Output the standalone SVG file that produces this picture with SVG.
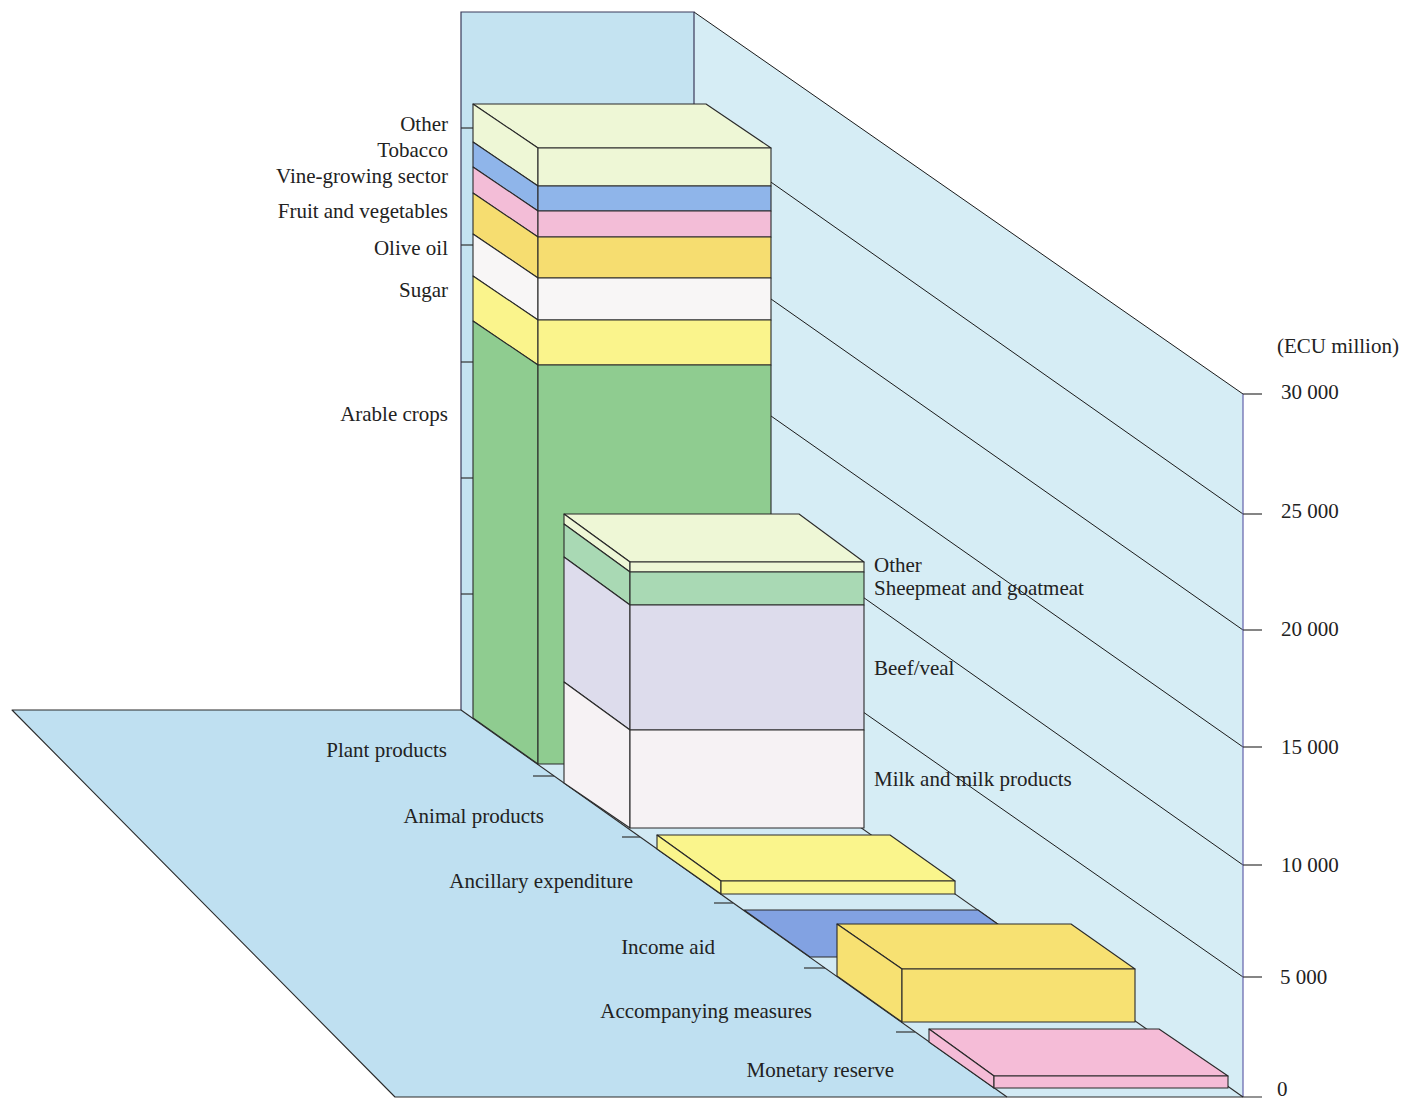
<svg xmlns="http://www.w3.org/2000/svg" width="1403" height="1100" viewBox="0 0 1403 1100">
<style>
.lbl{font-family:"Liberation Serif","Times New Roman",serif;font-size:21px;fill:#222}
.ol{stroke:#2a2a2a;stroke-width:1.1;stroke-linejoin:round}
.grid{stroke:#1a1a1a;stroke-width:1;fill:none}
.edge{stroke:#3a3a5a;stroke-width:1.2;fill:none}
.tick{stroke:#333;stroke-width:1.2}
.c-oth{fill:#eef7d6}
.c-tob{fill:#8fb5ea}
.c-vin{fill:#f3bdd7}
.c-fru{fill:#f6dd70}
.c-oli{fill:#f8f6f6}
.c-sug{fill:#faf48c}
.c-ara{fill:#8fcc90}
.c-she{fill:#a9d9b4}
.c-bee{fill:#dddcec}
.c-mil{fill:#f6f2f4}
.c-anc{fill:#faf58c}
.c-inc{fill:#82a2e2}
.c-acc{fill:#f7e172}
.c-mon{fill:#f5bcd7}
</style>
<rect width="1403" height="1100" fill="#ffffff"/>
<g id="walls">
<polygon points="461,12 694,12 694,710 461,710" fill="#c4e3f1"/>
<polygon points="694,12 1243,394 1243,1097 694,710" fill="#d6edf5"/>
<polygon points="12,710 461,710 1007,1097 395,1097" fill="#bfe0f1"/>
<polygon points="461,710 694,710 1243,1097 1007,1097" fill="#d2eaf4"/>
</g>
<g id="gridlines">
<line class="grid" x1="694" y1="128" x2="1243" y2="514"/>
<line class="grid" x1="694" y1="245" x2="1243" y2="630"/>
<line class="grid" x1="694" y1="362" x2="1243" y2="747"/>
<line class="grid" x1="694" y1="478" x2="1243" y2="865"/>
<line class="grid" x1="694" y1="594" x2="1243" y2="977"/>
<line class="grid" x1="694" y1="12" x2="1243" y2="394"/>
</g>
<g id="axes">
<polyline class="edge" points="461,710 461,12 694,12 694,710"/>
<line x1="1243" y1="394" x2="1243" y2="1097" stroke="#6c6cb0" stroke-width="1.3"/>
<polyline class="ol" fill="none" points="461,710 12,710 395,1097 1262,1097"/>
<line class="ol" x1="461" y1="710" x2="1007" y2="1097"/>
<line class="ol" x1="694" y1="710" x2="1243" y2="1097"/>
<g class="tick">
<line x1="461" y1="128" x2="473" y2="128"/>
<line x1="461" y1="245" x2="473" y2="245"/>
<line x1="461" y1="362" x2="473" y2="362"/>
<line x1="461" y1="478" x2="473" y2="478"/>
<line x1="461" y1="594" x2="473" y2="594"/>
<line x1="1243" y1="394" x2="1262" y2="394"/>
<line x1="1243" y1="514" x2="1262" y2="514"/>
<line x1="1243" y1="630" x2="1262" y2="630"/>
<line x1="1243" y1="747" x2="1262" y2="747"/>
<line x1="1243" y1="865" x2="1262" y2="865"/>
<line x1="1243" y1="977" x2="1262" y2="977"/>
<line x1="533" y1="776" x2="554" y2="776"/>
<line x1="622" y1="837" x2="640" y2="837"/>
<line x1="714" y1="903" x2="733" y2="903"/>
<line x1="804" y1="968" x2="825" y2="968"/>
<line x1="896" y1="1032" x2="915" y2="1032"/>
</g>
</g>
<g id="bar-plant" class="ol">
<polygon class="c-oth" points="473,104 706,104 771,148 538,148"/>
<polygon class="c-oth" points="473,104 538,148 538,186 473,142"/>
<polygon class="c-tob" points="473,142 538,186 538,211 473,167"/>
<polygon class="c-vin" points="473,167 538,211 538,237 473,193"/>
<polygon class="c-fru" points="473,193 538,237 538,278 473,234"/>
<polygon class="c-oli" points="473,234 538,278 538,320 473,276"/>
<polygon class="c-sug" points="473,276 538,320 538,365 473,321"/>
<polygon class="c-ara" points="473,321 538,365 538,764 473,718"/>
<rect class="c-oth" x="538" y="148" width="233" height="38"/>
<rect class="c-tob" x="538" y="186" width="233" height="25"/>
<rect class="c-vin" x="538" y="211" width="233" height="26"/>
<rect class="c-fru" x="538" y="237" width="233" height="41"/>
<rect class="c-oli" x="538" y="278" width="233" height="42"/>
<rect class="c-sug" x="538" y="320" width="233" height="45"/>
<rect class="c-ara" x="538" y="365" width="233" height="399"/>
</g>
<g id="bar-animal" class="ol">
<polygon class="c-oth" points="564,514 799,514 864,562 630,562"/>
<polygon class="c-oth" points="564,514 630,562 630,572 564,524"/>
<polygon class="c-she" points="564,524 630,572 630,605 564,557"/>
<polygon class="c-bee" points="564,557 630,605 630,730 564,682"/>
<polygon class="c-mil" points="564,682 630,730 630,828 564,783"/>
<rect class="c-oth" x="630" y="562" width="234" height="10"/>
<rect class="c-she" x="630" y="572" width="234" height="33"/>
<rect class="c-bee" x="630" y="605" width="234" height="125"/>
<rect class="c-mil" x="630" y="730" width="234" height="98"/>
</g>
<g id="bar-ancillary" class="ol">
<polygon class="c-anc" points="657,835 890,835 955,881 721,881"/>
<polygon class="c-anc" points="657,835 721,881 721,894 657,849"/>
<rect class="c-anc" x="721" y="881" width="234" height="13"/>
</g>
<g id="bar-income" class="ol">
<polygon class="c-inc" points="744,910 978,910 1044,957 810,957"/>
</g>
<g id="bar-accompanying" class="ol">
<polygon class="c-acc" points="837,924 1071,924 1135,969 902,969"/>
<polygon class="c-acc" points="837,924 902,969 902,1022 837,976"/>
<rect class="c-acc" x="902" y="969" width="233" height="53"/>
</g>
<g id="bar-monetary" class="ol">
<polygon class="c-mon" points="929,1029 1159,1029 1228,1076 994,1076"/>
<polygon class="c-mon" points="929,1029 994,1076 994,1088 929,1042"/>
<rect class="c-mon" x="994" y="1076" width="234" height="12"/>
</g>
<g id="labels-plant" class="lbl" text-anchor="end">
<text x="448" y="131">Other</text>
<text x="448" y="157">Tobacco</text>
<text x="448" y="183">Vine-growing sector</text>
<text x="448" y="218">Fruit and vegetables</text>
<text x="448" y="255">Olive oil</text>
<text x="448" y="297">Sugar</text>
<text x="448" y="421">Arable crops</text>
</g>
<g id="labels-animal" class="lbl">
<text x="874" y="572">Other</text>
<text x="874" y="595">Sheepmeat and goatmeat</text>
<text x="874" y="675">Beef/veal</text>
<text x="874" y="786">Milk and milk products</text>
</g>
<g id="labels-categories" class="lbl" text-anchor="end">
<text x="447" y="757">Plant products</text>
<text x="544" y="823">Animal products</text>
<text x="633" y="888">Ancillary expenditure</text>
<text x="715" y="954">Income aid</text>
<text x="812" y="1018">Accompanying measures</text>
<text x="894" y="1077">Monetary reserve</text>
</g>
<g id="labels-axis" class="lbl">
<text x="1277" y="353">(ECU million)</text>
<text x="1281" y="399">30 000</text>
<text x="1281" y="518">25 000</text>
<text x="1281" y="636">20 000</text>
<text x="1281" y="754">15 000</text>
<text x="1281" y="872">10 000</text>
<text x="1280" y="984">5 000</text>
<text x="1277" y="1096">0</text>
</g>
</svg>
